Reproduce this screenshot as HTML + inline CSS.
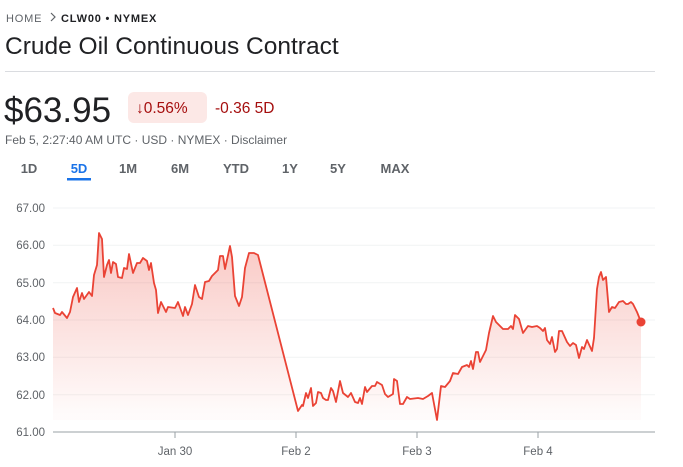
<!DOCTYPE html>
<html><head><meta charset="utf-8"><style>
body{margin:0;background:#fff;width:683px;height:467px;overflow:hidden}
svg{display:block;font-family:"Liberation Sans",Arial,sans-serif}
</style></head><body>
<svg width="683" height="467" viewBox="0 0 683 467">
<defs><linearGradient id="g" gradientUnits="userSpaceOnUse" x1="0" y1="235" x2="0" y2="415">
<stop offset="0" stop-color="#ea4335" stop-opacity="0.3"/><stop offset="1" stop-color="#ea4335" stop-opacity="0.02"/></linearGradient></defs>
<text x="6" y="22" font-size="11" fill="#5f6368" letter-spacing="0.8">HOME</text>
<path d="M51 13l4 4-4 4" stroke="#5f6368" stroke-width="1.2" fill="none"/>
<text x="61" y="22" font-size="11" font-weight="bold" fill="#202124" letter-spacing="0.8">CLW00 • NYMEX</text>
<text x="5" y="54" font-size="24.5" fill="#202124">Crude Oil Continuous Contract</text>
<rect x="5" y="71" width="650" height="1" fill="#dadce0"/>
<text x="4" y="122" font-size="35" fill="#202124">$63.95</text>
<rect x="128" y="92" width="79" height="31" rx="6" fill="#fce8e6"/>
<text x="136" y="113" font-size="15.5" fill="#a50e0e">↓0.56%</text>
<text x="215" y="113" font-size="15.5" fill="#a50e0e">-0.36 5D</text>
<text x="5" y="144" font-size="12" fill="#5f6368">Feb 5, 2:27:40 AM UTC · USD · NYMEX · Disclaimer</text>
<g font-size="13" fill="#5f6368" text-anchor="middle" font-weight="bold">
<text x="29" y="173">1D</text><text x="79" y="173" fill="#1a73e8">5D</text><text x="128" y="173">1M</text><text x="180" y="173">6M</text><text x="236" y="173">YTD</text><text x="290" y="173">1Y</text><text x="338" y="173">5Y</text><text x="395" y="173">MAX</text></g>
<rect x="67" y="178" width="24" height="2.5" fill="#1a73e8"/>
<g stroke="#f1f3f4" stroke-width="1">
<line x1="53" y1="208" x2="655" y2="208"/><line x1="53" y1="245.3" x2="655" y2="245.3"/><line x1="53" y1="282.7" x2="655" y2="282.7"/><line x1="53" y1="320" x2="655" y2="320"/><line x1="53" y1="357.3" x2="655" y2="357.3"/><line x1="53" y1="394.7" x2="655" y2="394.7"/></g>
<g font-size="11.5" fill="#5f6368" text-anchor="end">
<text x="45" y="212">67.00</text><text x="45" y="249">66.00</text><text x="45" y="287">65.00</text><text x="45" y="324">64.00</text><text x="45" y="361">63.00</text><text x="45" y="399">62.00</text><text x="45" y="436">61.00</text></g>
<line x1="53" y1="432" x2="655" y2="432" stroke="#9aa0a6" stroke-width="1"/>
<g stroke="#9aa0a6" stroke-width="1"><line x1="175" y1="432" x2="175" y2="438"/><line x1="296" y1="432" x2="296" y2="438"/><line x1="417" y1="432" x2="417" y2="438"/><line x1="538" y1="432" x2="538" y2="438"/></g>
<g font-size="11.5" fill="#5f6368" text-anchor="middle"><text x="175" y="455">Jan 30</text><text x="296" y="455">Feb 2</text><text x="417" y="455">Feb 3</text><text x="538" y="455">Feb 4</text></g>
<path d="M53,308 L55,313 60,315 62,312 67,318 70,312 73,297 77,288 79,302 82,293 84,299 89,292 92,296 94,275 97,265 99,233 102,239 104,277 107,265 109,260 111,273 113,262 116,264 118,277 122,278 124,268 127,269 129,254 133,273 137,263 140,263 143,258 147,261 149,270 151,263 154,283 156,290 158,313 161,302 166,312 168,307 175,308 178,302 183,316 185,307 188,315 192,304 195,285 199,297 202,299 205,282 209,281 212,276 215,273 218,270 220,256 223,256 225,269 230,246 232,257 235,296 239,306 242,297 245,268 249,253 254,253 258,255 298,411 302,405 303,406 306,393 308,398 311,388 313,406 316,403 318,392 321,393 323,398 326,400 328,400 331,388 333,391 336,402 340,381 343,393 348,397 351,393 355,402 358,403 360,398 362,404 365,387 367,392 372,386 375,386 377,382 382,385 385,394 388,397 393,394 394,379 397,381 400,404 403,404 407,397 410,399 418,398 423,399 428,396 432,393 437,420 441,386 445,387 450,381 453,373 458,374 462,367 467,365 469,367 471,361 473,369 476,352 478,352 480,362 483,356 486,350 489,333 493,316 496,322 503,329 508,329 511,326 513,329 515,315 519,319 523,333 528,326 532,327 537,326 540,328 543,331 545,328 547,340 550,344 552,337 555,352 557,349 559,331 562,331 567,342 570,346 573,343 576,345 579,358 582,347 584,349 587,340 592,351 594,338 597,289 599,277 601,272 603,280 606,277 609,312 612,307 615,308 619,302 623,301 626,304 628,304 631,302 633,304 637,312 641,322 L641,420 L53,420 Z" fill="url(#g)"/>
<path d="M53,308 L55,313 60,315 62,312 67,318 70,312 73,297 77,288 79,302 82,293 84,299 89,292 92,296 94,275 97,265 99,233 102,239 104,277 107,265 109,260 111,273 113,262 116,264 118,277 122,278 124,268 127,269 129,254 133,273 137,263 140,263 143,258 147,261 149,270 151,263 154,283 156,290 158,313 161,302 166,312 168,307 175,308 178,302 183,316 185,307 188,315 192,304 195,285 199,297 202,299 205,282 209,281 212,276 215,273 218,270 220,256 223,256 225,269 230,246 232,257 235,296 239,306 242,297 245,268 249,253 254,253 258,255 298,411 302,405 303,406 306,393 308,398 311,388 313,406 316,403 318,392 321,393 323,398 326,400 328,400 331,388 333,391 336,402 340,381 343,393 348,397 351,393 355,402 358,403 360,398 362,404 365,387 367,392 372,386 375,386 377,382 382,385 385,394 388,397 393,394 394,379 397,381 400,404 403,404 407,397 410,399 418,398 423,399 428,396 432,393 437,420 441,386 445,387 450,381 453,373 458,374 462,367 467,365 469,367 471,361 473,369 476,352 478,352 480,362 483,356 486,350 489,333 493,316 496,322 503,329 508,329 511,326 513,329 515,315 519,319 523,333 528,326 532,327 537,326 540,328 543,331 545,328 547,340 550,344 552,337 555,352 557,349 559,331 562,331 567,342 570,346 573,343 576,345 579,358 582,347 584,349 587,340 592,351 594,338 597,289 599,277 601,272 603,280 606,277 609,312 612,307 615,308 619,302 623,301 626,304 628,304 631,302 633,304 637,312 641,322" fill="none" stroke="#ea4335" stroke-width="1.8" stroke-linejoin="round"/>
<circle cx="641" cy="322" r="4.5" fill="#ea4335"/>
</svg>
</body></html>
